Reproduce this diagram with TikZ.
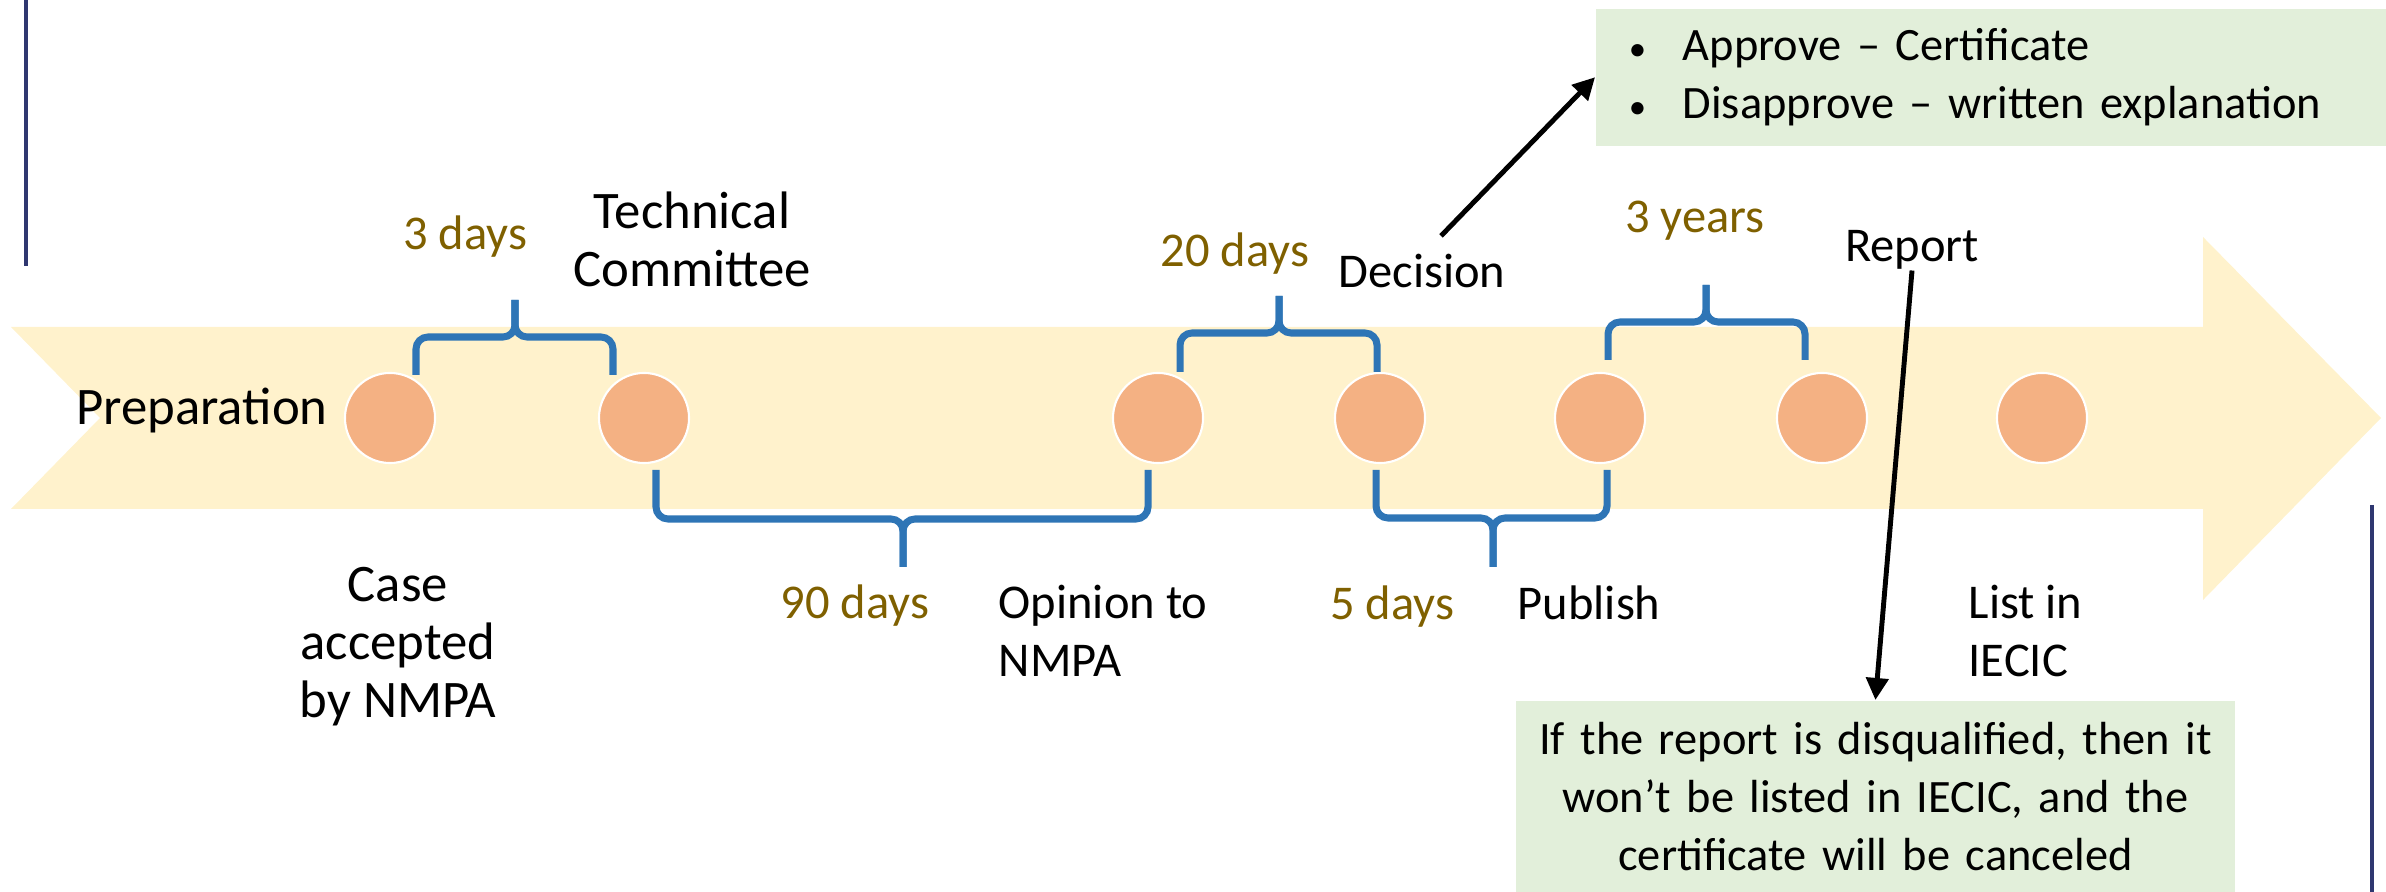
\documentclass[tikz,border=0pt]{standalone}
\usepackage{fontspec}
\setmainfont{Carlito}
\usetikzlibrary{arrows.meta}
\definecolor{bandyellow}{HTML}{FFF2CC}
\definecolor{dotorange}{HTML}{F4B183}
\definecolor{braceblue}{HTML}{2E75B6}
\definecolor{spanolive}{HTML}{7F6000}
\definecolor{notegreen}{HTML}{E2EFDA}
\definecolor{rulenavy}{HTML}{2F3770}

\newcommand{\notebullet}{\makebox[0.54cm][l]{\scalebox{0.75}{\textbullet}}}

\tikzset{
  txt/.style={font=\fontsize{13.8}{16.6}\selectfont, inner sep=0pt},
  bigtxt/.style={font=\fontsize{15}{16.6}\selectfont, inner sep=0pt},
  span/.style={txt, text=spanolive},
  dot/.style={circle, fill=dotorange, draw=white, line width=0.6pt, minimum size=0.9cm, inner sep=0pt},
  curly/.style={draw=braceblue, line width=2pt, rounded corners=0.12cm},
  note/.style={font=\fontsize{13.2}{16.5}\selectfont, fill=notegreen, inner ysep=0pt},
  pointer/.style={-{Triangle[length=0.22cm,width=0.22cm]}, line width=1.4pt},
}

\begin{document}
\begin{tikzpicture}[x=0.01cm, y=-0.01cm]
        \useasboundingbox (0,0) rectangle (2386,892);

        % side rules
        \draw[rulenavy, line width=1.2pt] (26,0)--(26,266);
        \draw[rulenavy, line width=1.2pt] (2372,505)--(2372,892);

        % timeline band
        \fill[bandyellow] (11,327)--(2203,327)--(2203,237)--(2381,418)
        --(2203,600)--(2203,509)--(11,509)--(100,418)--cycle;

        % milestones
        \foreach \n/\x in {1/390,2/644,3/1158,4/1380,5/1600,6/1822,7/2042}
          \node[dot] (m\n) at (\x,418) {};

        % braces above the band
        \draw[curly] (416,375) |- (515,337) -- (515,300);
        \draw[curly] (613,375) |- (515,337) -- (515,300);
        \draw[curly] (1180,372) |- (1279,333) -- (1279,296);
        \draw[curly] (1377,372) |- (1279,333) -- (1279,296);
        \draw[curly] (1608,360) |- (1706,322) -- (1706,285);
        \draw[curly] (1805,360) |- (1706,322) -- (1706,285);

        % braces below the band
        \draw[curly] (656,470) |- (903,519) -- (903,567);
        \draw[curly] (1148,470) |- (903,519) -- (903,567);
        \draw[curly] (1376,470) |- (1493,518) -- (1493,567);
        \draw[curly] (1607,470) |- (1493,518) -- (1493,567);

        % durations
        \node[span, anchor=base] (d3) at (465,250) {3 days};
        \node[span, anchor=base] (d90) at (855,619) {90 days};
        \node[span, anchor=base] (d20) at (1235,267) {20 days};
        \node[span, anchor=base] (d5) at (1392,620) {5 days};
        \node[span, anchor=base] (y3) at (1695,233) {3 years};

        % steps (base = last line)
        \node[bigtxt, anchor=base] (prep) at (202,425) {Preparation};
        \node[bigtxt, anchor=base, align=center] (tech) at (692,287) {Technical\\Committee};
        \node[bigtxt, anchor=base, align=center] (case) at (398,718) {Case\\accepted\\by NMPA};
        \node[txt, anchor=base west, align=left] (opinion) at (998,677) {Opinion to\\NMPA};
        \node[txt, anchor=base] (decision) at (1422,288) {Decision};
        \node[txt, anchor=base west] (publish) at (1517,620) {Publish};
        \node[txt, anchor=base] (report) at (1912,262) {Report};
        \node[txt, anchor=base west, align=left] (listin) at (1968,677) {List in\\IECIC};

        % notes
        \node[note, anchor=north west, text width=7.4cm, inner xsep=0.33cm,
          minimum height=1.37cm, align=left] (outcome) at (1595,8)
          {\notebullet Approve – Certificate\\
           \notebullet Disapprove – written explanation};
        \node[note, anchor=north west, text width=6.99cm, inner xsep=0.1cm,
          minimum height=1.92cm, align=center] (ifbox) at (1515,700)
          {If the report is disqualified, then it\\
           won’t be listed in IECIC, and the\\
           certificate will be canceled};

        % arrows
        \draw[pointer] ([shift={(19,-18)}]decision.north) -- (outcome.west);
        \draw[pointer] (report.south) -- (ifbox.north);

\end{tikzpicture}
\end{document}
